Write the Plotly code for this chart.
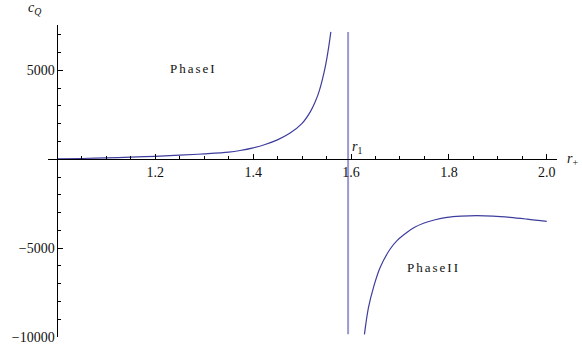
import plotly.graph_objects as go

# Phase I branch (r_+ < r_1)
r_phase1 = [1.0, 1.05, 1.1, 1.15, 1.2, 1.25, 1.3, 1.35, 1.3732, 1.4, 1.4243,
            1.4495, 1.4755, 1.4994, 1.5164, 1.5266, 1.5354, 1.547, 1.554, 1.5587]
c_phase1 = [15, 40, 75, 115, 165, 225, 300, 400, 490, 640, 830,
            1090, 1470, 2000, 2650, 3215, 3875, 5150, 6250, 7160]

# Phase II branch (r_+ > r_1)
r_phase2 = [1.6274, 1.6356, 1.6458, 1.6595, 1.68, 1.695, 1.714, 1.73, 1.748,
            1.77, 1.796, 1.825, 1.857, 1.89, 1.925, 1.96, 2.0]
c_phase2 = [-9850, -8350, -7220, -6090, -5050, -4550, -4120, -3830, -3600,
            -3420, -3270, -3200, -3175, -3200, -3270, -3370, -3500]

# divergence at r_1
r_1 = 1.594
r1_line_y = [7150, -9850]

x_ticks = [1.2, 1.4, 1.6, 1.8, 2.0]
x_ticktext = ["1.2", "1.4", "1.6", "1.8", "2.0"]
x_minor = [1.05, 1.1, 1.15, 1.25, 1.3, 1.35, 1.45, 1.5, 1.55, 1.65, 1.7,
           1.75, 1.85, 1.9, 1.95]
y_ticks = [5000, -5000, -10000]
y_ticktext = ["5000", "\u22125000", "\u221210000"]
y_minor = [7000, 6000, 4000, 3000, 2000, 1000, -1000, -2000, -3000, -4000,
           -6000, -7000, -8000, -9000]

x_range = [0.9806, 2.021]
y_range = [-10000, 7550]

serif = "Liberation Serif, Times New Roman, serif"
curve_color = "#3d3d9e"

fig = go.Figure()

fig.add_trace(go.Scatter(x=r_phase1, y=c_phase1, mode="lines",
                         line=dict(color=curve_color, width=1.2, shape="spline"),
                         showlegend=False, hoverinfo="skip"))
fig.add_trace(go.Scatter(x=r_phase2, y=c_phase2, mode="lines",
                         line=dict(color=curve_color, width=1.2, shape="spline"),
                         showlegend=False, hoverinfo="skip"))
fig.add_trace(go.Scatter(x=[r_1, r_1], y=r1_line_y, mode="lines",
                         line=dict(color="#9a9ad0", width=2),
                         showlegend=False, hoverinfo="skip"))

# axes cross at r_+ = 1 and c_Q = 0, like the original
x_pos = (0 - y_range[0]) / (y_range[1] - y_range[0])
y_pos = (1.0 - x_range[0]) / (x_range[1] - x_range[0])

fig.update_layout(
    width=582, height=356,
    margin=dict(l=48, r=25, t=25, b=19, autoexpand=False),
    paper_bgcolor="white",
    plot_bgcolor="white",
    font=dict(family=serif, size=14, color="#111"),
    xaxis=dict(range=x_range, anchor="free", position=x_pos, automargin=False,
               showline=True, linecolor="black", linewidth=1,
               showgrid=False, zeroline=False,
               tickmode="array", tickvals=x_ticks, ticktext=x_ticktext,
               ticks="inside", ticklen=5, tickcolor="black",
               tickfont=dict(family=serif, size=14, color="#111"),
               minor=dict(tickmode="array", tickvals=x_minor, ticks="inside",
                          ticklen=3, tickcolor="black")),
    yaxis=dict(range=y_range, anchor="free", position=y_pos, automargin=False,
               showline=True, linecolor="black", linewidth=1,
               showgrid=False, zeroline=False,
               tickmode="array", tickvals=y_ticks, ticktext=y_ticktext,
               ticks="inside", ticklen=5, tickcolor="black",
               tickfont=dict(family=serif, size=14, color="#111"),
               minor=dict(tickmode="array", tickvals=y_minor, ticks="inside",
                          ticklen=3, tickcolor="black")),
)

ann = [
    dict(text="<i>c</i><sub><i>Q</i></sub>", xref="paper", yref="paper",
         x=-0.027, y=1.052, xanchor="center", yanchor="middle", size=14),
    dict(text="<i>r</i><sub>+</sub>", xref="paper", yref="y",
         x=1.015, y=0, xanchor="left", yanchor="middle", size=14),
    dict(text="<i>r</i><sub>1</sub>", xref="x", yref="y",
         x=1.598, y=650, xanchor="left", yanchor="middle", size=14),
    dict(text="PhaseI", xref="x", yref="y",
         x=1.278, y=5100, xanchor="center", yanchor="middle", size=13),
    dict(text="PhaseII", xref="x", yref="y",
         x=1.769, y=-6100, xanchor="center", yanchor="middle", size=13),
]
for a in ann:
    fig.add_annotation(text=a["text"], xref=a["xref"], yref=a["yref"],
                       x=a["x"], y=a["y"], xanchor=a["xanchor"],
                       yanchor=a["yanchor"], showarrow=False,
                       font=dict(family=serif, size=a["size"], color="#111"))

# drop the default 8px page margin so the figure fills the window,
# and space out the phase labels like the original
post = """
document.body.style.margin = '0px';
document.querySelectorAll('text.annotation-text').forEach(function (t) {
    if (t.textContent.indexOf('Phase') === 0) { t.style.letterSpacing = '2px'; }
});
"""
fig.write_html("out.html", post_script=post, config={"displayModeBar": False})
